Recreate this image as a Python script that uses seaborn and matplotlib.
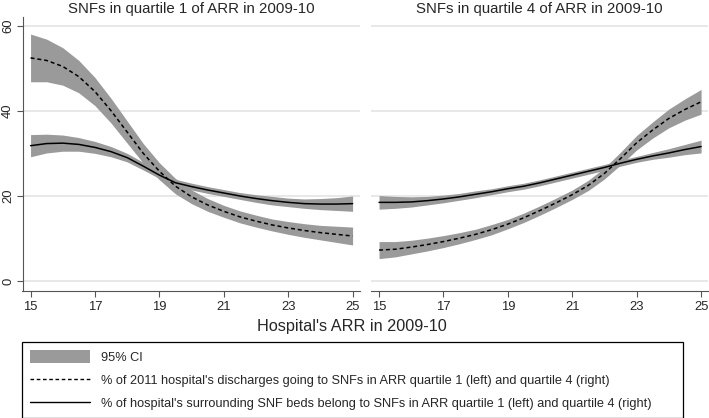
#################################################################################################
# Hospital ARR vs share of discharges / beds in SNF quartiles (two panels, lines + 95% CI)
#################################################################################################
import numpy as np
import pandas as pd
import matplotlib
matplotlib.use('Agg')
import matplotlib.pyplot as plt
from matplotlib.patches import Patch
from matplotlib.lines import Line2D
import seaborn as sns

# Hospital's ARR grid (x axis)
arr = [15, 15.5, 16, 16.5, 17, 17.5, 18, 18.5, 19, 19.5, 20,
       20.5, 21, 21.5, 22, 22.5, 23, 23.5, 24, 24.5, 25]

# Left panel: SNFs in ARR quartile 1
q1_discharges    = [52.4, 51.8, 50.4, 48.0, 44.5, 40.0, 35.0, 30.0, 25.8, 22.3, 19.8,
                    17.9, 16.4, 15.1, 14.1, 13.2, 12.5, 11.9, 11.4, 11.0, 10.6]
q1_discharges_ci = [5.6, 5.0, 4.4, 3.8, 3.3, 2.9, 2.6, 2.3, 2.0, 1.8, 1.6,
                    1.5, 1.4, 1.4, 1.4, 1.4, 1.5, 1.6, 1.7, 1.9, 2.1]
q1_beds          = [31.8, 32.3, 32.4, 32.1, 31.4, 30.4, 29.0, 27.0, 24.9, 23.1, 22.2,
                    21.4, 20.7, 20.0, 19.4, 18.9, 18.5, 18.2, 18.1, 18.1, 18.2]
q1_beds_ci       = [2.6, 2.2, 1.9, 1.6, 1.4, 1.2, 1.0, 0.9, 0.8, 0.8, 0.8,
                    0.8, 0.8, 0.8, 0.9, 1.0, 1.0, 1.1, 1.3, 1.5, 1.8]

# Right panel: SNFs in ARR quartile 4
q4_discharges    = [7.3, 7.5, 8.0, 8.6, 9.3, 10.1, 11.0, 12.1, 13.4, 14.9, 16.6,
                    18.4, 20.3, 22.5, 25.3, 28.8, 32.5, 35.5, 38.2, 40.3, 42.1]
q4_discharges_ci = [2.0, 1.8, 1.6, 1.5, 1.4, 1.3, 1.2, 1.2, 1.1, 1.1, 1.1,
                    1.1, 1.1, 1.2, 1.3, 1.5, 1.7, 1.9, 2.2, 2.5, 2.9]
q4_beds          = [18.5, 18.5, 18.6, 18.9, 19.3, 19.8, 20.4, 21.0, 21.7, 22.3, 23.1,
                    24.0, 24.9, 25.8, 26.7, 27.7, 28.6, 29.4, 30.1, 30.9, 31.6]
q4_beds_ci       = [1.6, 1.4, 1.2, 1.0, 0.9, 0.8, 0.8, 0.7, 0.7, 0.7, 0.7,
                    0.7, 0.7, 0.7, 0.7, 0.7, 0.7, 0.8, 1.0, 1.2, 1.5]

titles = ['SNFs in quartile 1 of ARR in 2009-10', 'SNFs in quartile 4 of ARR in 2009-10']
legend_labels = ['95% CI',
                 "% of 2011 hospital's discharges going to SNFs in ARR quartile 1 (left) and quartile 4 (right)",
                 "% of hospital's surrounding SNF beds belong to SNFs in ARR quartile 1 (left) and quartile 4 (right)"]

# long table
frames = []
for panel, disc, disc_ci, beds, beds_ci in [(0, q1_discharges, q1_discharges_ci, q1_beds, q1_beds_ci),
                                            (1, q4_discharges, q4_discharges_ci, q4_beds, q4_beds_ci)]:
    frames.append(pd.DataFrame({'panel': panel, 'arr': arr, 'series': 'discharges',
                                'value': disc, 'ci': disc_ci}))
    frames.append(pd.DataFrame({'panel': panel, 'arr': arr, 'series': 'beds',
                                'value': beds, 'ci': beds_ci}))
df = pd.concat(frames, ignore_index=True)
df['lo'] = df['value'] - df['ci']
df['hi'] = df['value'] + df['ci']

#################################################################################################
# Plot
#################################################################################################
sns.set_style('white')
plt.rcParams['font.family'] = ['Liberation Sans', 'DejaVu Sans']

band_col = '#9a9a9a'
axis_col = '#555555'
dash = (2.6, 1.9)

fig = plt.figure(figsize=(7.09, 4.18), dpi=100)
W, H = 709.0, 418.0
ax_bottom = 1 - 291 / H
ax_height = (291 - 17) / H
ax1 = fig.add_axes([22.5 / W, ax_bottom, 337.5 / W, ax_height])
ax2 = fig.add_axes([371 / W, ax_bottom, 337.5 / W, ax_height], sharey=ax1)

for i, ax in enumerate([ax1, ax2]):
    sub = df[df['panel'] == i]
    for s in ['discharges', 'beds']:
        ss = sub[sub['series'] == s]
        ax.fill_between(ss['arr'], ss['lo'], ss['hi'], color=band_col, lw=0, zorder=1)
    sns.lineplot(data=sub, x='arr', y='value', style='series', style_order=['discharges', 'beds'],
                 dashes={'discharges': dash, 'beds': ''}, color='black', lw=1.1,
                 ax=ax, legend=False, zorder=3)

    ax.set_xlim(14.75, 25.23)
    ax.set_ylim(-2.3, 62)
    ax.set_xticks([15, 17, 19, 21, 23, 25])
    ax.set_yticks([0, 20, 40, 60])
    ax.yaxis.grid(True, color='#e6e6e6', lw=1.3)
    ax.set_axisbelow(True)
    ax.set_xlabel('')
    ax.set_ylabel('')
    ax.set_title(titles[i], fontsize=10.8, pad=3)
    for sp in ['top', 'right']:
        ax.spines[sp].set_visible(False)
    ax.spines['bottom'].set_color(axis_col)
    ax.spines['left'].set_color(axis_col)
    ax.spines['bottom'].set_linewidth(0.8)
    ax.spines['left'].set_linewidth(0.8)
    ax.tick_params(axis='x', direction='out', length=4, width=0.8, color=axis_col,
                   labelsize=9.4, pad=3, bottom=True)
    ax.tick_params(axis='y', direction='out', length=4, width=0.8, color=axis_col,
                   labelsize=9.4, pad=2, left=True)

plt.setp(ax1.get_yticklabels(), rotation=90, va='center')
ax2.spines['left'].set_visible(False)
ax2.tick_params(axis='y', left=False, labelleft=False)

fig.text(0.497, 1 - 327 / H, "Hospital's ARR in 2009-10", ha='center', va='center', fontsize=11.7)

handles = [Patch(facecolor=band_col, edgecolor='none'),
           Line2D([], [], color='black', lw=1.0, linestyle=(0, dash)),
           Line2D([], [], color='black', lw=1.0)]
leg = fig.legend(handles, legend_labels, loc='upper left',
                 bbox_to_anchor=(22 / W, 1 - 342 / H, 661 / W, 0), mode='expand',
                 borderaxespad=0, fontsize=9.2, frameon=True, fancybox=False,
                 edgecolor='black', framealpha=1, handlelength=4.7, handleheight=1.25,
                 handletextpad=0.86, labelspacing=0.72, borderpad=0.62)
leg.get_frame().set_linewidth(0.9)

fig.savefig('out.png', dpi=100)
